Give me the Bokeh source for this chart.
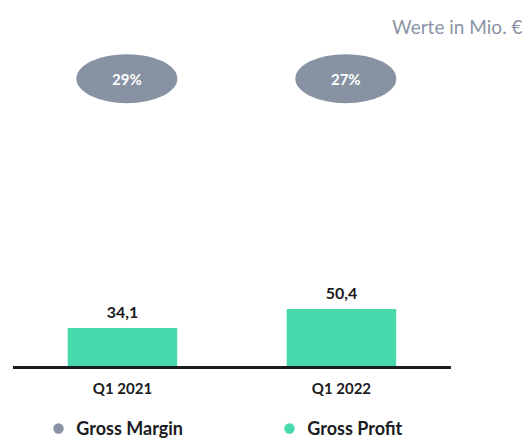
from bokeh.plotting import figure
from bokeh.models import Range1d, Legend, LegendItem, Label, ColumnDataSource
from bokeh.core.properties import value
from bokeh.transform import dodge
from bokeh.embed import file_html
from bokeh.resources import INLINE

# ---- data ----
quarters = ["Q1 2021", "Q1 2022"]
gross_profit = [34.1, 50.4]
gross_margin = [29, 27]
unit_note = "Werte in Mio. €"
series_names = ["Gross Margin", "Gross Profit"]

# ---- style ----
FONT = "Lato"
GREEN = "#48d9ad"
GREY = "#8792a3"
DARK = "#1b1b22"
NOTE = "#8a94a6"
MARGIN_ROW_Y = 249
MARGIN_SHIFT = 0.02

xs = list(range(len(quarters)))
profit_labels = [f"{v:.1f}".replace(".", ",") for v in gross_profit]
margin_labels = [f"{v}%" for v in gross_margin]

margin_src = ColumnDataSource(dict(x=xs, y=[MARGIN_ROW_Y] * len(xs), label=margin_labels))

p = figure(width=524, height=438, output_backend="svg", toolbar_location=None,
           x_range=Range1d(-0.557, 1.836), y_range=Range1d(-61.2, 316.4),
           x_axis_location=None, y_axis_location=None,
           min_border_left=0, min_border_right=0, min_border_top=0, min_border_bottom=0)
p.outline_line_color = None
p.grid.visible = False
p.background_fill_color = "white"

# bars
p.vbar(x=xs, top=gross_profit, width=0.5, bottom=0, color=GREEN, line_color=None)
p.text(x=xs, y=gross_profit, text=profit_labels, y_offset=-10,
       text_align="center", text_baseline="bottom",
       text_font=value(FONT), text_font_style="bold", text_font_size="16px", text_color=DARK)

# baseline (category axis)
p.segment(x0=[xs[0] - 0.5], y0=[0], x1=[xs[-1] + 0.5], y1=[0], line_width=3, line_color=DARK)
p.text(x=xs, y=[0] * len(xs), text=quarters, y_offset=20,
       text_align="center", text_baseline="middle",
       text_font=value(FONT), text_font_style="bold", text_font_size="15px", text_color=DARK)

# margin ellipses
p.ellipse(x=dodge("x", MARGIN_SHIFT), y="y", source=margin_src, width=101, height=49,
          width_units="screen", height_units="screen", fill_color=GREY, line_color=None)
p.text(x=dodge("x", MARGIN_SHIFT), y="y", text="label", source=margin_src,
       text_align="center", text_baseline="middle",
       text_font=value(FONT), text_font_style="bold", text_font_size="15px", text_color="white")

# note
p.add_layout(Label(x=522, y=412, x_units="screen", y_units="screen", text=unit_note,
                   text_align="right", text_baseline="middle",
                   text_font=FONT, text_font_size="19px", text_color=NOTE))

# legend (proxy renderers with a single non-drawn point)
nan = float("nan")
r1 = p.scatter(x=[nan], y=[nan], marker="circle", fill_color=GREY, line_color=None)
r2 = p.scatter(x=[nan], y=[nan], marker="circle", fill_color=GREEN, line_color=None)
legend = Legend(items=[LegendItem(label=series_names[0], renderers=[r1]),
                       LegendItem(label=series_names[1], renderers=[r2])],
                orientation="horizontal", location=(45.3, -3),
                glyph_width=26, glyph_height=26, label_standoff=5,
                label_width=194, spacing=6, padding=0,
                border_line_color=None, background_fill_alpha=0,
                label_text_font=FONT, label_text_font_style="bold",
                label_text_font_size="18px", label_text_color=DARK)
p.add_layout(legend)

open("out.html", "w").write(file_html(p, INLINE))
